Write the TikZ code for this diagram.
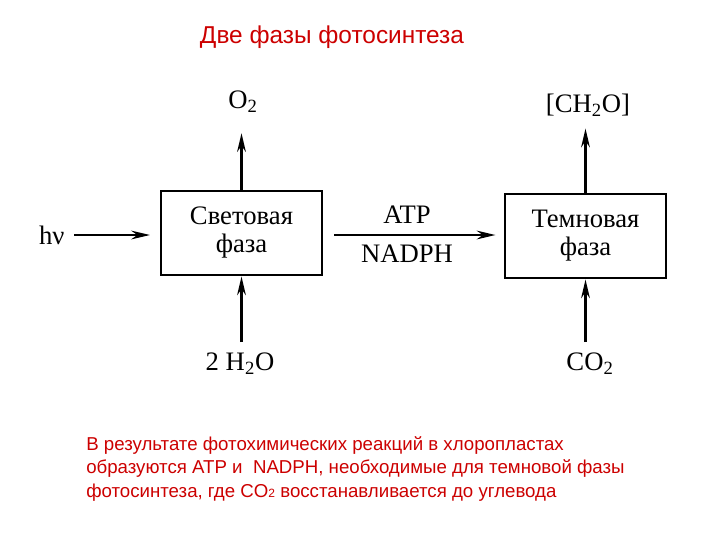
\documentclass[tikz,border=0pt]{standalone}
\usepackage{fontspec}
\setmainfont{Liberation Serif}
\newfontfamily\arialf{Liberation Sans}
\usetikzlibrary{arrows.meta}
\definecolor{txtred}{RGB}{204,0,0}
\begin{document}
\begin{tikzpicture}[x=0.75pt,y=-0.75pt,
  phase/.style={draw,line width=2.2pt,minimum width=120.75pt,minimum height=63pt,inner sep=0pt,align=center,font=\fontsize{20}{21}\selectfont},
  lbl/.style={font=\fontsize{20}{22}\selectfont,inner sep=1pt},
  flow/.style={line width=2pt,-{Stealth[length=14pt,width=6.5pt]}}]
\useasboundingbox (0,0) rectangle (720,540);
\node[font=\arialf\fontsize{18.3}{20}\selectfont,text=txtred] (title) at (332,37) {Две фазы фотосинтеза};
\node[phase] (light) at (241.5,233) {Световая\\фаза};
\node[phase] (dark) at (585.5,236) {Темновая\\фаза};
\node[lbl,anchor=east] (hv) at (66,235) {hν};
\node[lbl] (o2) at (243,102) {O\textsubscript{2}};
\node[lbl] (h2o) at (240,364) {2 H\textsubscript{2}O};
\node[lbl] (ch2o) at (588,105) {[CH\textsubscript{2}O]};
\node[lbl] (co2) at (590,364) {CO\textsubscript{2}};
\node[lbl] (atp) at (407,215) {ATP};
\node[lbl] (nadph) at (407,254) {NADPH};
\coordinate (hvend) at (150,235);
\draw[flow] (hv.east) ++(8,0) -- (hvend);
\draw[flow] (light.north) -- ([yshift=-14pt]light.north |- o2.south);
\draw[flow] ([yshift=7pt]light.south |- h2o.north) -- (light.south);
\draw[flow] ([xshift=8.25pt,yshift=-1.5pt]light.east) -- ([xshift=129pt,yshift=-1.5pt]light.east);
\draw[flow] (dark.north) -- ([yshift=-8pt]dark.north |- ch2o.south);
\draw[flow] ([yshift=7pt]dark.south |- co2.north) -- (dark.south);
\node[anchor=north west,align=left,font=\arialf\fontsize{14}{17.6}\selectfont,text=txtred,inner sep=0pt] (note) at (86,436)
 {В результате фотохимических реакций в хлоропластах\\
  образуются ATP и~ NADPH, необходимые для темновой фазы\\
  фотосинтеза, где CO{\fontsize{9}{10}\selectfont 2} восстанавливается до углевода};
\end{tikzpicture}
\end{document}
